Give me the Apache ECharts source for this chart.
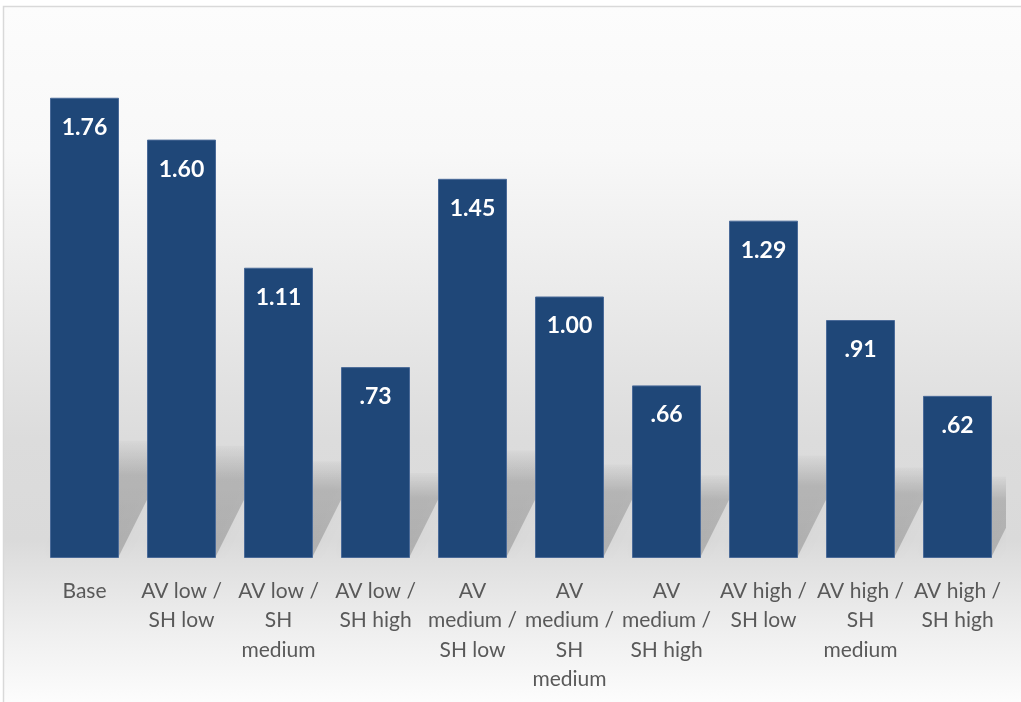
<!DOCTYPE html>
<html>
<head>
<meta charset="utf-8">
<script src="https://cdn.jsdelivr.net/npm/echarts@6/dist/echarts.min.js"></script>
<style>
html,body{margin:0;padding:0;background:#fff;}
#chart{width:1021px;height:702px;}
</style>
</head>
<body>
<div id="chart"></div>
<script>
const categories = ['Base','AV low / SH low','AV low / SH medium','AV low / SH high','AV medium / SH low','AV medium / SH medium','AV medium / SH high','AV high / SH low','AV high / SH medium','AV high / SH high'];
const tickLabels = ['Base','AV low /\nSH low','AV low /\nSH\nmedium','AV low /\nSH high','AV\nmedium /\nSH low','AV\nmedium /\nSH\nmedium','AV\nmedium /\nSH high','AV high /\nSH low','AV high /\nSH\nmedium','AV high /\nSH high'];
const values = [1.76, 1.60, 1.11, 0.73, 1.45, 1.00, 0.66, 1.29, 0.91, 0.62];

const chart = echarts.init(document.getElementById('chart'));
const fmt = v => { const s = v.toFixed(2); return s.startsWith('0') ? s.slice(1) : s; };

const option = {
  backgroundColor: '#ffffff',
  animation: false,
  graphic: [{
    type: 'rect',
    z: -10,
    silent: true,
    shape: {x: 3.5, y: 6.5, width: 1040, height: 720},
    style: {
      fill: new echarts.graphic.LinearGradient(0, 0, 0, 1, [
        {offset: 0, color: '#fcfcfc'},
        {offset: 0.2, color: '#f8f8f8'},
        {offset: 0.42, color: '#e9e9e9'},
        {offset: 0.6, color: '#dcdcdc'},
        {offset: 0.74, color: '#dadada'},
        {offset: 0.78, color: '#e1e1e1'},
        {offset: 0.86, color: '#eeeeee'},
        {offset: 0.97, color: '#fdfdfd'},
        {offset: 1, color: '#ffffff'}
      ]),
      stroke: '#d9d9d9',
      lineWidth: 1.5
    }
  }],
  grid: {left: 36, right: 15, top: 35, bottom: 144, containLabel: false},
  xAxis: {
    type: 'category',
    data: categories,
    axisLine: {show: false},
    axisTick: {show: false},
    axisLabel: {
      interval: 0,
      margin: 18,
      color: '#595959',
      fontFamily: 'Lato',
      fontSize: 21,
      lineHeight: 29.5,
      align: 'center',
      verticalAlign: 'top',
      formatter: (v, i) => tickLabels[i]
    }
  },
  yAxis: {
    type: 'value',
    min: 0,
    max: 2,
    show: false,
    splitLine: {show: false}
  },
  series: [
    {
      type: 'custom',
      z: 1,
      silent: true,
      clip: true,
      data: values.map((v, i) => [i, v]),
      renderItem: function (params, api) {
        const base = api.coord([api.value(0), 0]);
        const top = api.coord([api.value(0), api.value(1)]);
        const w = api.size([1, 0])[0] * 0.71;
        const h = base[1] - top[1];
        const H = 0.12 * h + 60;
        const k = 0.5;
        const x0 = base[0] - w / 2, x1 = base[0] + w / 2, y = base[1] - 2;
        return {
          type: 'polygon',
          shape: {points: [[x0, y], [x1, y], [x1 + H * k, y - H], [x0 + H * k, y - H]]},
          style: {
            fill: new echarts.graphic.LinearGradient(0, 0, 0, 1, [
              {offset: 0, color: 'rgba(0,0,0,0.02)'},
              {offset: 0.3, color: 'rgba(0,0,0,0.16)'},
              {offset: 1, color: 'rgba(0,0,0,0.19)'}
            ]),
            shadowBlur: 16,
            shadowColor: 'rgba(0,0,0,0.12)'
          }
        };
      }
    },
    {
      type: 'bar',
      z: 3,
      data: values,
      barWidth: 69,
      itemStyle: {
        color: '#1f4778',
        borderColor: '#4a6a98',
        borderWidth: 1
      },
      label: {
        show: true,
        position: 'insideTop',
        distance: 18,
        color: '#ffffff',
        fontFamily: 'Lato',
        fontWeight: 'bold',
        fontSize: 23,
        formatter: p => fmt(p.value)
      }
    }
  ]
};
chart.setOption(option);
</script>
</body>
</html>
